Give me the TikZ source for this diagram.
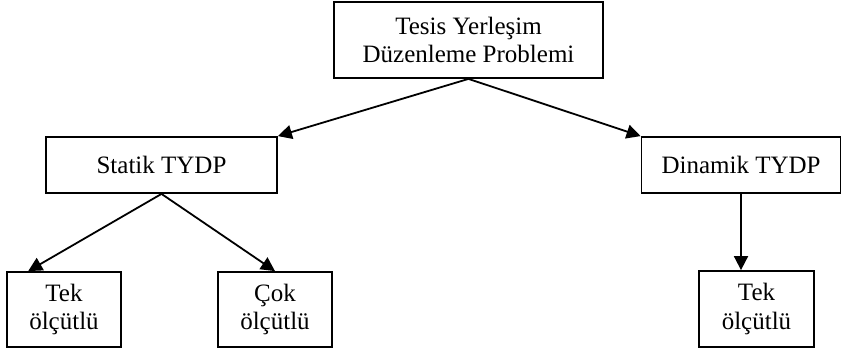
\documentclass[tikz,border=0pt]{standalone}
\usepackage{fontspec}
\setmainfont{Liberation Serif}
\usepackage{tikz}
\usetikzlibrary{arrows.meta}
\tikzset{%
  tipA/.tip={Triangle[length=14pt,width=14pt]},
  kutu/.style={draw, line width=1.8pt, inner sep=0pt, align=center,
    font=\fontsize{25}{28.5}\selectfont},
  ok/.style={line width=1.8pt, -tipA}
}

\begin{document}
\begin{tikzpicture}[x=1pt,y=-1pt]
\useasboundingbox (0,0) rectangle (842,354);
\node[kutu, minimum width=269pt, minimum height=76pt] (tydp) at (468.5,40) {Tesis Yerleşim\\Düzenleme Problemi};
\node[kutu, minimum width=231pt, minimum height=56pt] (statik) at (161.5,165) {Statik TYDP};
\node[kutu, minimum width=199pt, minimum height=56pt] (dinamik) at (741,165) {Dinamik TYDP};
\node[kutu, minimum width=114pt, minimum height=75pt] (tekA) at (64,309.5) {Tek\\ölçütlü};
\node[kutu, minimum width=114pt, minimum height=75pt] (cok) at (275,309.5) {Çok\\ölçütlü};
\node[kutu, minimum width=115pt, minimum height=76pt] (tekB) at (756.5,309) {Tek\\ölçütlü};
\draw[ok] (tydp.south) -- (statik.north east);
\draw[ok] (tydp.south) -- (dinamik.north west);
\draw[ok] (statik.south) -- (tekA.133);
\draw[ok] (statik.south) -- (cok.north);
\draw[ok] (dinamik.south) -- (dinamik.south |- tekB.north);
\end{tikzpicture}
\end{document}
